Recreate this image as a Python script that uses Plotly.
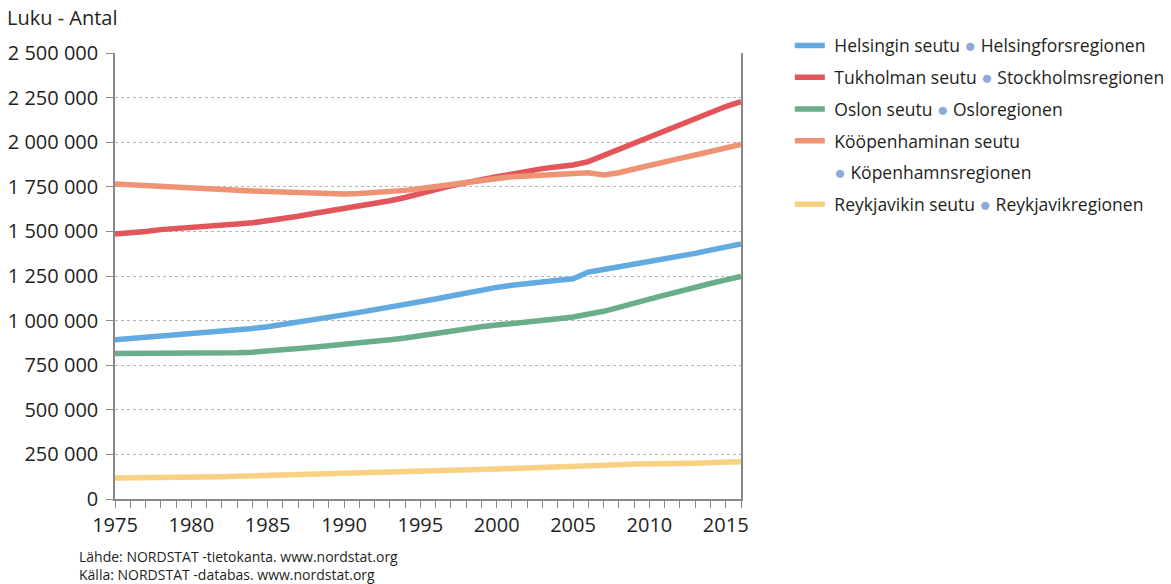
import plotly.graph_objects as go

years = list(range(1975, 2017))

helsinki = [893000, 900000, 906000, 911000, 917000, 923000, 930000, 938000, 947000, 956000,
            966000, 978000, 990000, 1003000, 1018000, 1032000, 1046000, 1060000, 1073000, 1088000,
            1104000, 1121000, 1138000, 1155000, 1172000, 1186000, 1198000, 1209000, 1218000, 1226000,
            1234000, 1272000, 1286000, 1300000, 1314000, 1328000, 1342000, 1358000, 1377000, 1395000,
            1412000, 1429000]
stockholm = [1485000, 1490000, 1500000, 1510000, 1515000, 1520000, 1526000, 1535000, 1542000, 1548000,
             1558000, 1570000, 1585000, 1600000, 1613000, 1630000, 1640000, 1655000, 1672000, 1690000,
             1715000, 1735000, 1755000, 1775000, 1790000, 1806000, 1823000, 1840000, 1852000, 1862000,
             1872000, 1891000, 1925000, 1960000, 1995000, 2031000, 2067000, 2102000, 2137000, 2170000,
             2200000, 2227000]
oslo = [815000, 815000, 817000, 818000, 819000, 817000, 817000, 818000, 820000, 823000,
        828000, 835000, 843000, 851000, 858000, 865000, 873000, 883000, 893000, 903000,
        917000, 929000, 943000, 955000, 965000, 975000, 982000, 990000, 1000000, 1010000,
        1020000, 1035000, 1052000, 1074000, 1100000, 1120000, 1143000, 1167000, 1190000, 1208000,
        1228000, 1248000]
copenhagen = [1765000, 1760000, 1757000, 1754000, 1750000, 1747000, 1740000, 1735000, 1731000, 1727000,
              1723000, 1719000, 1716000, 1713000, 1711000, 1710000, 1712000, 1716000, 1722000, 1730000,
              1740000, 1752000, 1765000, 1778000, 1790000, 1800000, 1807000, 1811000, 1815000, 1820000,
              1825000, 1829000, 1817000, 1829000, 1850000, 1872000, 1890000, 1909000, 1928000, 1948000,
              1967000, 1988000]
reykjavik = [118000, 118000, 118500, 119000, 120000, 121000, 123000, 125000, 127000, 129000,
             131000, 133000, 136000, 139000, 142000, 145000, 147000, 149000, 150000, 152000,
             154000, 156000, 159000, 162000, 165000, 168000, 171000, 173000, 175000, 177000,
             179000, 182000, 187000, 192000, 196000, 196000, 197000, 199000, 201000, 204000,
             207000, 209000]

DOT = '<span style="color:#8eaadb;font-size:19px">●</span>'
names = [
    " Helsingin seutu " + DOT + " Helsingforsregionen",
    " Tukholman seutu " + DOT + " Stockholmsregionen",
    " Oslon seutu " + DOT + " Osloregionen",
    " Kööpenhaminan seutu",
    " " + DOT + " Köpenhamnsregionen",
    " Reykjavikin seutu " + DOT + " Reykjavikregionen",
]
series = [helsinki, stockholm, oslo, copenhagen, None, reykjavik]
colors = ["#62aae0", "#e2555b", "#69ad8b", "#ee9475", "rgba(0,0,0,0)", "#f8d182"]

FONT = "Open Sans"
TXT = "#231f20"

fig = go.Figure()
for i, (nm, ser, col) in enumerate(zip(names, series, colors)):
    if ser is None:
        fig.add_trace(go.Scatter(x=[None], y=[None], mode="lines", name=nm,
                                 line=dict(color=col, width=6), legendgroup="g%d" % i,
                                 hoverinfo="skip"))
    else:
        fig.add_trace(go.Scatter(x=years, y=ser, mode="lines", name=nm,
                                 line=dict(color=col, width=5.5), legendgroup="g%d" % i))

fig.update_layout(
    width=1171, height=584, autosize=False,
    margin=dict(l=115, r=430, t=53, b=85, autoexpand=False),
    paper_bgcolor="white", plot_bgcolor="white",
    font=dict(family=FONT, color=TXT, size=17),
    separators=", ",
    showlegend=True,
    legend=dict(x=1.078, y=1.057, xanchor="left", yanchor="top",
                font=dict(family=FONT, size=17.5, color=TXT),
                traceorder="grouped", tracegroupgap=6, valign="middle",
                bgcolor="rgba(0,0,0,0)"),
    xaxis=dict(range=[1975, 2016], tickmode="linear", tick0=1975, dtick=5,
               ticks="outside", ticklen=7, tickcolor="#888888", tickwidth=1,
               minor=dict(dtick=1, ticks="outside", ticklen=7, tickcolor="#888888"),
               showline=True, linecolor="#888888", linewidth=1.5,
               showgrid=False, zeroline=False, automargin=False,
               tickfont=dict(family=FONT, size=20, color=TXT)),
    yaxis=dict(range=[0, 2500000], tickmode="linear", tick0=0, dtick=250000,
               tickformat=",d", ticks="outside", ticklen=7, tickcolor="#888888",
               showline=True, mirror=True, linecolor="#888888", linewidth=1.5,
               showgrid=True, gridcolor="#b5b5b5", griddash="dot", gridwidth=1,
               zeroline=False, ticklabelstandoff=4, automargin=False,
               tickfont=dict(family=FONT, size=20, color=TXT)),
    annotations=[
        dict(text="Luku - Antal", xref="paper", yref="paper", x=-0.176, y=1.0785,
             xanchor="left", yanchor="middle", showarrow=False,
             font=dict(family=FONT, size=20, color=TXT)),
        dict(text="Lähde: NORDSTAT -tietokanta. www.nordstat.org<br>Källa: NORDSTAT -databas. www.nordstat.org",
             xref="paper", yref="paper", x=-0.061, y=-0.150, xanchor="left", yanchor="middle",
             align="left", showarrow=False,
             font=dict(family=FONT, size=14, color=TXT)),
    ],
)

fig.write_html("out.html", config={"displayModeBar": False},
               post_script="document.body.style.margin='0';")
